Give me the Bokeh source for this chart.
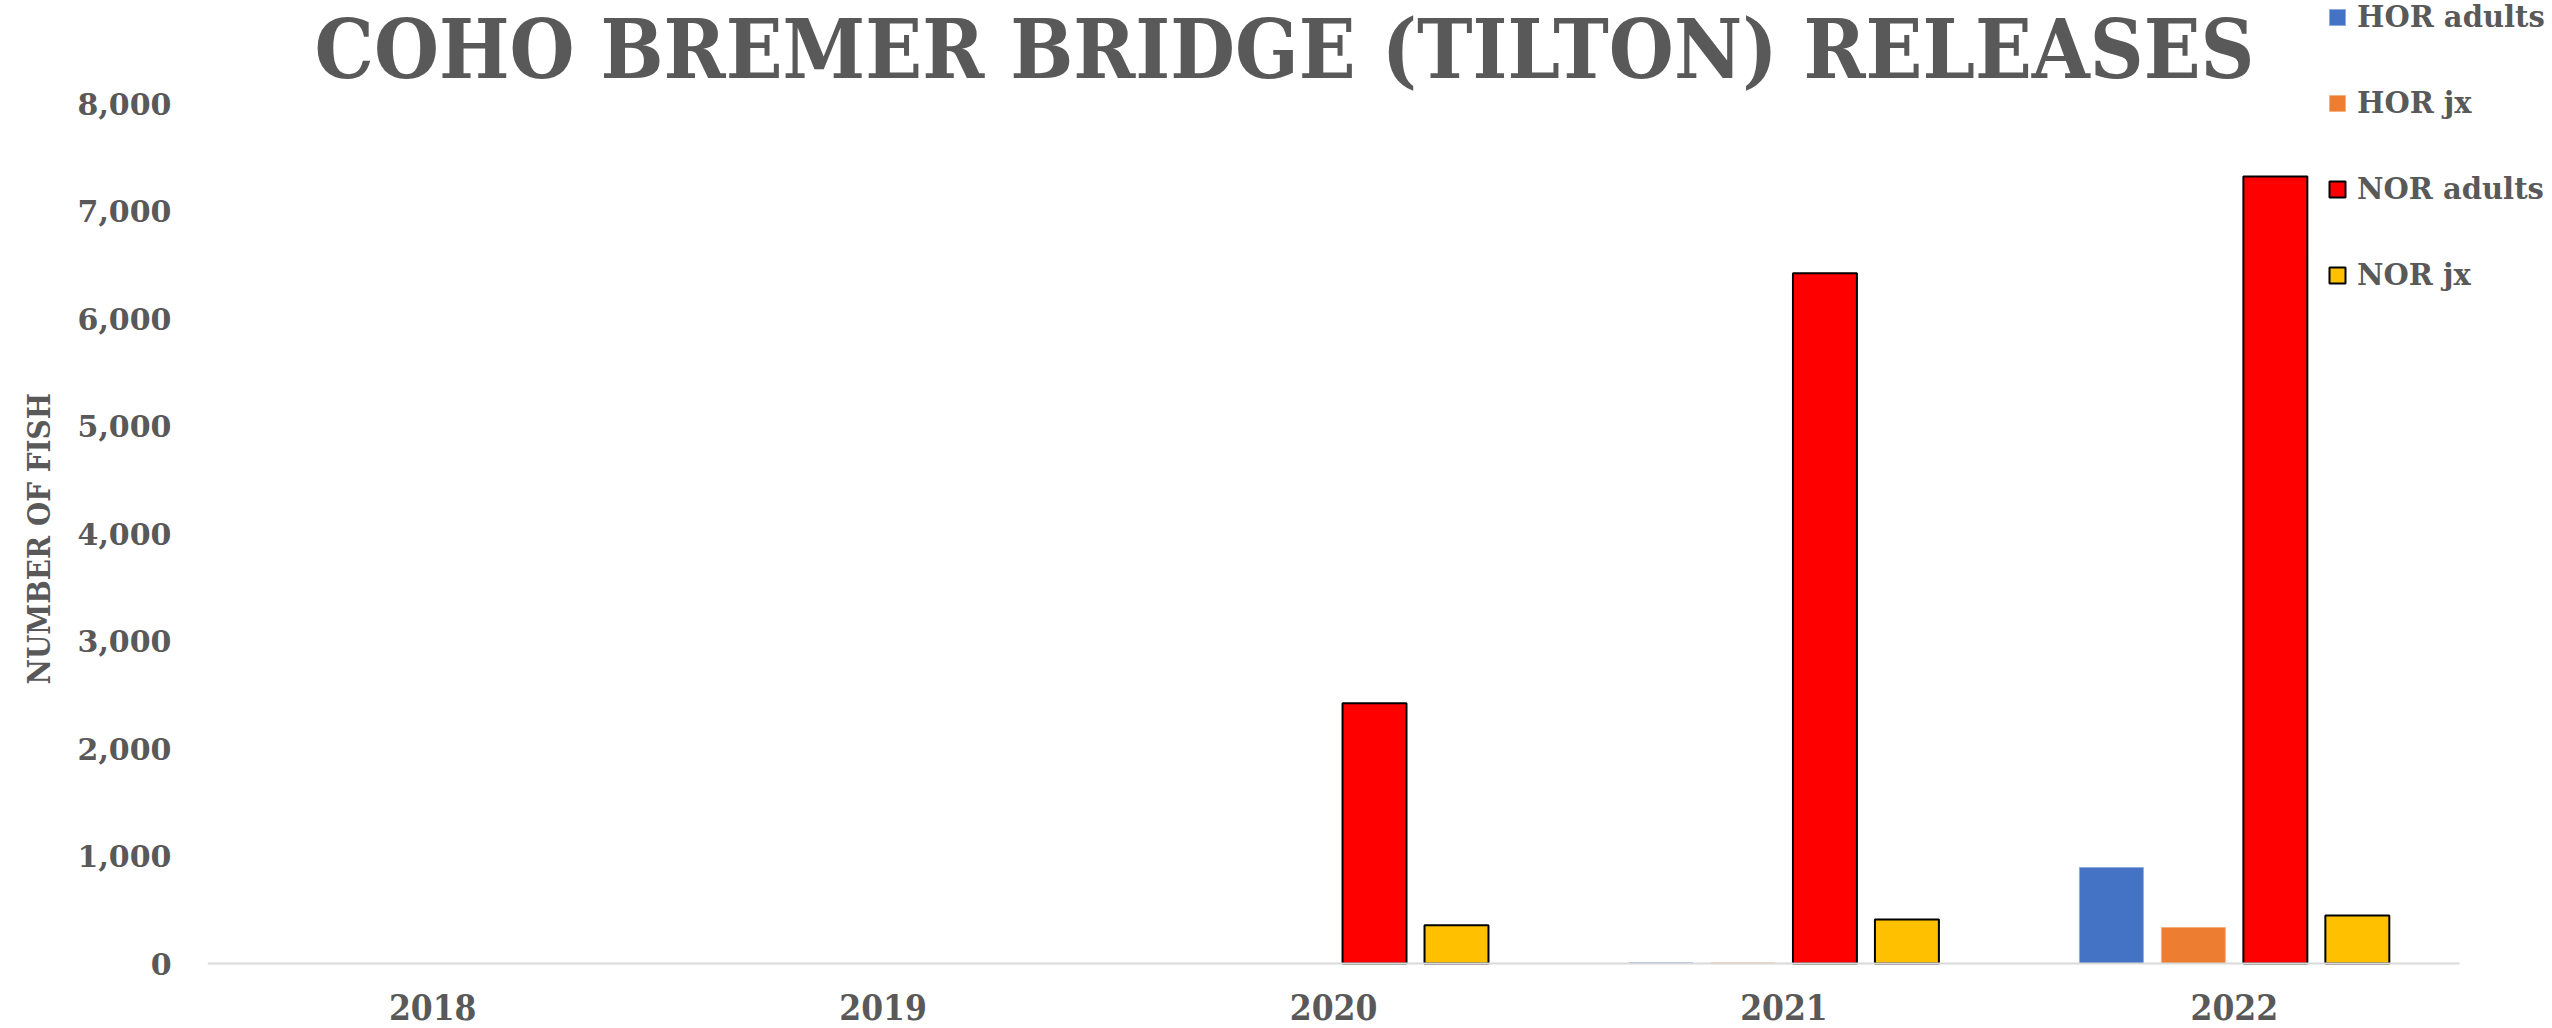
from bokeh.plotting import figure
from bokeh.models import (ColumnDataSource, Range1d, Legend, LegendItem, Label, Title,
                          NumeralTickFormatter, SingleIntervalTicker, FixedTicker)
from bokeh.transform import dodge
from bokeh.embed import file_html
from bokeh.resources import INLINE

# ---- data ----
years = ["2018", "2019", "2020", "2021", "2022"]
hor_adults = [0, 0, 0, 6, 893]
hor_jx = [0, 0, 0, 5, 335]
nor_adults = [0, 0, 2420, 6420, 7320]
nor_jx = [0, 0, 355, 410, 447]
series_names = ["HOR adults", "HOR jx", "NOR adults", "NOR jx"]
y_max = 8000
y_tick_step = 1000
title_text = "COHO BREMER BRIDGE (TILTON) RELEASES"
y_title = "NUMBER OF FISH"

# ---- layout constants (pixels) ----
FIG_W, FIG_H = 2552, 1028
FRAME_L = 205          # left border for y axis
CAT_PX = 450.8         # width of one category
Y0_PX = 963            # canvas y of value 0
PX_PER_UNIT = 0.1075   # pixels per fish

idx = list(range(len(years)))
src = ColumnDataSource(dict(
    idx=idx, hor_adults=hor_adults, hor_jx=hor_jx, nor_adults=nor_adults, nor_jx=nor_jx,
    a1=[1 if v > 0 else 0 for v in hor_adults], a2=[1 if v > 0 else 0 for v in hor_jx],
    a3=[1 if v > 0 else 0 for v in nor_adults], a4=[1 if v > 0 else 0 for v in nor_jx],
))

GREY = "#595959"
COND = "DejaVu Serif Condensed"
x_range = Range1d(-0.5, -0.5 + (FIG_W - FRAME_L) / CAT_PX)
y_range = Range1d(-(FIG_H - Y0_PX) / PX_PER_UNIT, Y0_PX / PX_PER_UNIT)

p = figure(x_range=x_range, y_range=y_range, width=FIG_W, height=FIG_H,
           output_backend="svg", toolbar_location=None,
           min_border_left=FRAME_L, min_border_right=0, min_border_bottom=0, min_border_top=0)
p.outline_line_color = None
p.xgrid.grid_line_color = None
p.ygrid.grid_line_color = None

W = 0.142
PITCH = 0.182
offs = [-1.5 * PITCH, -0.5 * PITCH, 0.5 * PITCH, 1.5 * PITCH]

# soft shadows for outlined series
for col, off in (("nor_adults", offs[2]), ("nor_jx", offs[3])):
    p.vbar(x=dodge("idx", off + 0.018, range=p.x_range), top=col, width=W * 0.6, source=src,
           fill_color="#000000", fill_alpha=0.10, line_color=None)
    p.vbar(x=dodge("idx", off + 0.011, range=p.x_range), top=col, width=W * 0.8, source=src,
           fill_color="#000000", fill_alpha=0.14, line_color=None)

r1 = p.vbar(x=dodge("idx", offs[0], range=p.x_range), top="hor_adults", width=W, source=src,
            fill_color="#4472C4", line_color="#8FAADC", line_width=1, line_alpha="a1")
r2 = p.vbar(x=dodge("idx", offs[1], range=p.x_range), top="hor_jx", width=W, source=src,
            fill_color="#ED7D31", line_color="#F4B183", line_width=1, line_alpha="a2")
r3 = p.vbar(x=dodge("idx", offs[2], range=p.x_range), top="nor_adults", width=W, source=src,
            fill_color="#FF0000", line_color="black", line_width=2, line_alpha="a3")
r4 = p.vbar(x=dodge("idx", offs[3], range=p.x_range), top="nor_jx", width=W, source=src,
            fill_color="#FFC000", line_color="black", line_width=2, line_alpha="a4")

last = len(years) - 1
lg = [LegendItem(label=n, renderers=[r], index=last) for n, r in zip(series_names, [r1, r2, r3, r4])]
legend = Legend(items=lg, location=(2120, 736), orientation="vertical",
                label_text_font="DejaVu Serif", label_text_font_style="bold",
                label_text_font_size="29px", label_text_color=GREY,
                glyph_width=20, glyph_height=20, label_standoff=10, spacing=52,
                padding=0, margin=0, border_line_color=None, background_fill_alpha=0)
p.add_layout(legend, "center")

# chart title
title = Label(x=1077, y=980, x_units="screen", y_units="screen", text=title_text,
              text_font=COND, text_font_size="83px", text_font_style="bold",
              text_color=GREY, text_align="center", text_baseline="alphabetic")
p.add_layout(title)

# vertical axis title
ytitle = Title(text=y_title, align="left", offset=344, standoff=36,
               text_font=COND, text_font_size="31px", text_font_style="bold",
               text_color=GREY)
p.add_layout(ytitle, "left")

xa = p.xaxis[0]
xa.fixed_location = 0
xa.bounds = (-0.5, len(years) - 0.5)
xa.ticker = FixedTicker(ticks=idx)
xa.major_label_overrides = {i: y for i, y in zip(idx, years)}
xa.axis_line_color = "#D9D9D9"
xa.axis_line_width = 2
xa.major_tick_line_color = None
xa.minor_tick_line_color = None
xa.major_tick_out = 0
xa.major_label_text_font = COND
xa.major_label_text_font_style = "bold"
xa.major_label_text_font_size = "35px"
xa.major_label_text_color = GREY
xa.major_label_standoff = 30

ya = p.yaxis[0]
ya.bounds = (0, y_max)
ya.ticker = SingleIntervalTicker(interval=y_tick_step)
ya.formatter = NumeralTickFormatter(format="0,0")
ya.axis_line_color = None
ya.major_tick_line_color = None
ya.minor_tick_line_color = None
ya.major_tick_out = 0
ya.major_label_text_font = "DejaVu Serif"
ya.major_label_text_font_style = "bold"
ya.major_label_text_font_size = "30px"
ya.major_label_text_color = GREY
ya.major_label_standoff = 32

open("out.html", "w").write(file_html(p, INLINE))
